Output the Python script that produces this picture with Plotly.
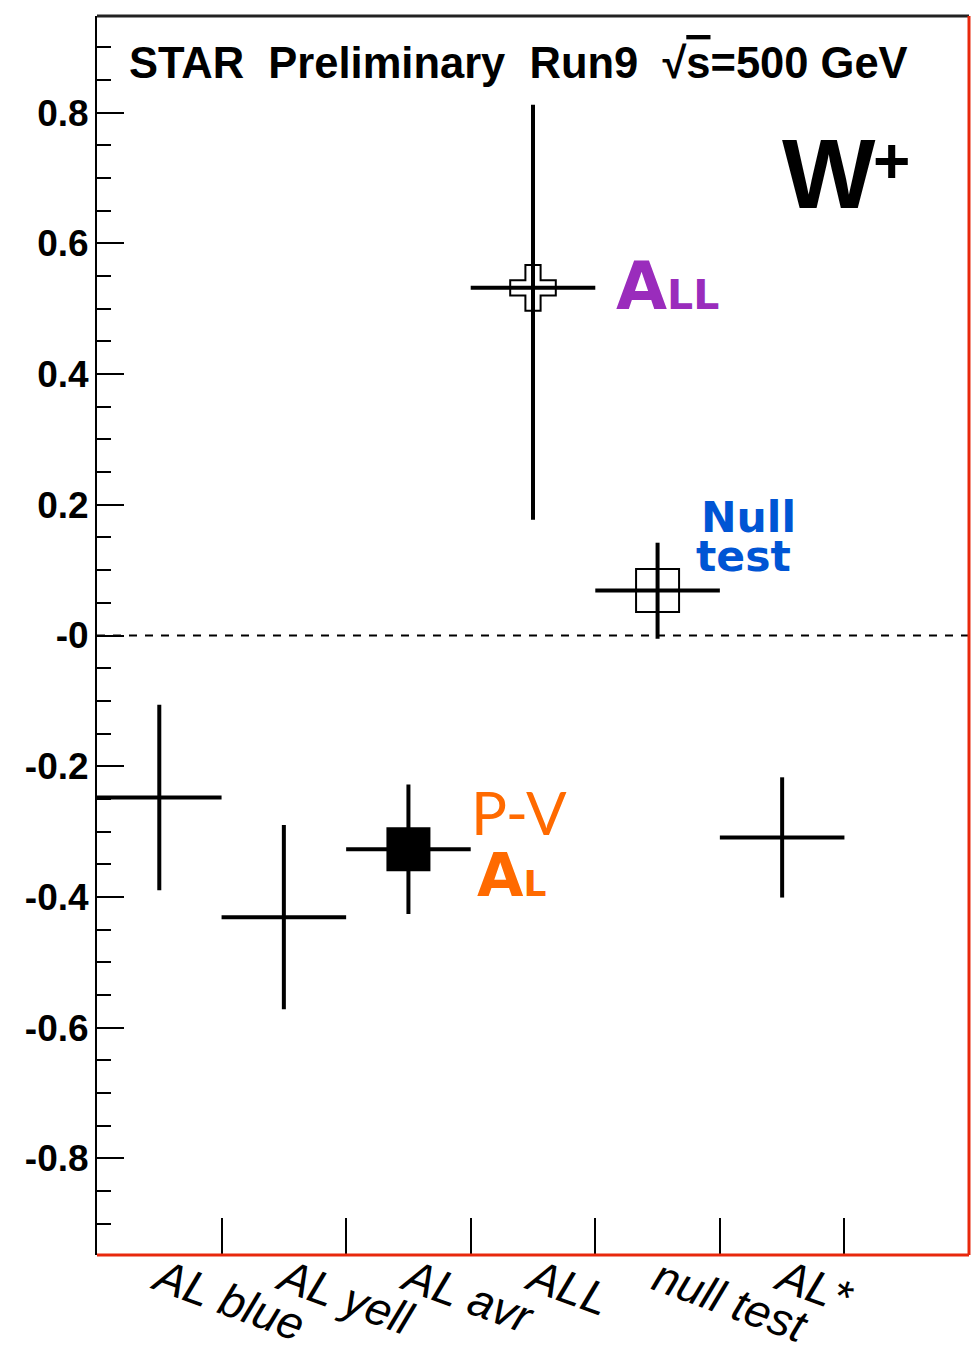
import plotly.graph_objects as go

# Measured asymmetries, W+ (STAR Run 9, sqrt(s) = 500 GeV)
categories = ["AL blue", "AL yell", "AL avr", "ALL", "null test", "AL*"]
values = [-0.248, -0.431, -0.327, 0.532, 0.069, -0.309]
err_up = [0.142, 0.141, 0.099, 0.280, 0.073, 0.092]
err_down = [0.142, 0.141, 0.099, 0.355, 0.074, 0.092]
symbols = ["circle", "circle", "square", "cross-open", "square-open", "circle"]
sizes = [0, 0, 42, 38, 43, 0]

y_ticks = [0.8, 0.6, 0.4, 0.2, 0.0, -0.2, -0.4, -0.6, -0.8]
y_ticktext = ["0.8", "0.6", "0.4", "0.2", "-0", "-0.2", "-0.4", "-0.6", "-0.8"]

n_bins = 7
bin_centers = [i + 0.5 for i in range(len(categories))]
bin_edges = [i for i in range(1, n_bins)]

W, H = 971, 1353
L, R, T, B = 97, 2, 16, 98
Y_MIN, Y_MAX = -0.948, 0.948


def px(x):
    """Horizontal pixel -> paper fraction."""
    return (x - L) / (W - L - R)


def py(y):
    """Vertical pixel (from top) -> paper fraction."""
    return (H - B - y) / (H - T - B)


fig = go.Figure()
fig.add_trace(go.Scatter(
    x=bin_centers, y=values, mode="markers",
    marker=dict(symbol=symbols, size=sizes, color="black", opacity=1,
                line=dict(color="black", width=2)),
    error_y=dict(type="data", symmetric=False, array=err_up, arrayminus=err_down,
                 color="black", thickness=4, width=0),
    error_x=dict(type="constant", value=0.5, color="black", thickness=4, width=0),
    showlegend=False, hoverinfo="skip",
))

shapes = [
    # dashed zero line
    dict(type="line", xref="paper", yref="y", x0=0, x1=1, y0=0, y1=0,
         line=dict(color="black", width=2, dash="8px,8px")),
    # frame
    dict(type="line", xref="paper", yref="paper", x0=0, x1=1, y0=1, y1=1,
         line=dict(color="#222222", width=3)),
    dict(type="line", xref="paper", yref="paper", x0=1, x1=1, y0=0, y1=1,
         line=dict(color="#e8280c", width=3)),
    dict(type="line", xref="paper", yref="paper", x0=0, x1=1, y0=0, y1=0,
         line=dict(color="#e8280c", width=3)),
]

BOLD_SANS = "DejaVu Sans"

annotations = [
    dict(xref="paper", yref="paper", x=px(127), y=py(63),
         xanchor="left", yanchor="middle", showarrow=False,
         text="STAR\u00a0\u00a0Preliminary\u00a0\u00a0Run9\u00a0\u00a0\u221a<span style='text-decoration:overline'>s</span>=500 GeV",
         font=dict(family="Liberation Sans", size=43.5, color="black", weight="bold")),
    dict(xref="paper", yref="paper", x=px(780), y=py(173),
         xanchor="left", yanchor="middle", showarrow=False,
         text="W",
         font=dict(family="Liberation Sans", size=99, color="black", weight="bold")),
    dict(xref="paper", yref="paper", x=px(891), y=py(161),
         xanchor="center", yanchor="middle", showarrow=False,
         text="+",
         font=dict(family="Liberation Sans", size=64, color="black", weight="bold")),
    dict(xref="paper", yref="paper", x=px(614), y=py(286),
         xanchor="left", yanchor="middle", showarrow=False,
         text="A<span style='font-size:41px'>LL</span>",
         font=dict(family=BOLD_SANS, size=66, color="#9a2cbc", weight="bold")),
    dict(xref="paper", yref="paper", x=px(699), y=py(517),
         xanchor="left", yanchor="middle", showarrow=False,
         text="Null",
         font=dict(family=BOLD_SANS, size=42.5, color="#0055d4", weight="bold")),
    dict(xref="paper", yref="paper", x=px(694), y=py(556),
         xanchor="left", yanchor="middle", showarrow=False,
         text="test",
         font=dict(family=BOLD_SANS, size=42.5, color="#0055d4", weight="bold")),
    dict(xref="paper", yref="paper", x=px(469), y=py(812),
         xanchor="left", yanchor="middle", showarrow=False,
         text="P-V",
         font=dict(family="Lato", size=60, color="#ff6a00")),
    dict(xref="paper", yref="paper", x=px(475), y=py(875),
         xanchor="left", yanchor="middle", showarrow=False,
         text="A<span style='font-size:36px'>L</span>",
         font=dict(family=BOLD_SANS, size=60, color="#ff6a00", weight="bold")),
]

fig.update_layout(
    width=W, height=H,
    margin=dict(l=L, r=R, t=T, b=B, pad=0, autoexpand=False),
    paper_bgcolor="white", plot_bgcolor="white",
    shapes=shapes, annotations=annotations,
    xaxis=dict(
        range=[0, n_bins], tickmode="array", tickvals=bin_centers, ticktext=categories,
        ticks="", tickangle=20, showgrid=False, zeroline=False, showline=False,
        automargin=False, ticklabelstandoff=-12,
        tickfont=dict(family="Liberation Sans", size=46, color="black", style="italic"),
        minor=dict(tickmode="array", tickvals=bin_edges, ticks="inside", ticklen=37,
                   tickwidth=2, tickcolor="black", showgrid=False),
    ),
    yaxis=dict(
        range=[Y_MIN, Y_MAX], tickmode="array", tickvals=y_ticks, ticktext=y_ticktext,
        ticks="inside", ticklen=27, tickwidth=2, tickcolor="black",
        showgrid=False, zeroline=False, showline=True, linecolor="black", linewidth=2,
        automargin=False, ticklabelstandoff=-1,
        tickfont=dict(family="Liberation Sans", size=37, color="black", weight="bold"),
        minor=dict(tick0=0, dtick=0.05, ticks="inside", ticklen=14, tickwidth=2,
                   tickcolor="black", showgrid=False),
    ),
)

fig.write_html("out.html")
